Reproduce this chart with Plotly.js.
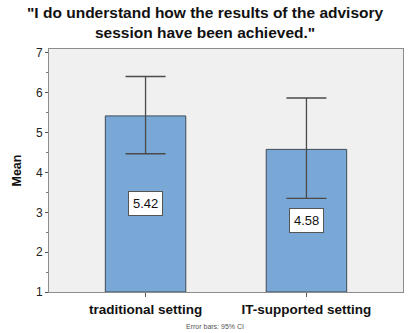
<!DOCTYPE html>
<html>
<head>
<meta charset="utf-8">
<script src="https://cdn.plot.ly/plotly-3.0.1.min.js"></script>
<style>
  html, body { margin: 0; padding: 0; background: #fff; }
  #chart { width: 408px; height: 333px; }
</style>
</head>
<body>
<div id="chart"></div>
<script>
// Mean agreement per advisory setting, with 95% confidence intervals
const categories = ["traditional setting", "IT-supported setting"];
const means = [5.42, 4.58];
const ciUpper = [6.41, 5.87];
const ciLower = [4.47, 3.35];
const yTickValues = [1, 2, 3, 4, 5, 6, 7];
const yTickLabels = ["1", "2", "3", "4", "5", "6", "7"];
const chartTitle = "\"I do understand how the results of the advisory<br>session have been achieved.\"";
const footnoteText = "Error bars: 95% CI";

const axisFloor = 1;
const errPlus = means.map((m, i) => ciUpper[i] - m);
const errMinus = means.map((m, i) => m - ciLower[i]);
const FONT = "Liberation Sans, Arial, sans-serif";

const barTrace = {
  type: "bar",
  x: categories,
  y: means.map(m => m - axisFloor),
  base: axisFloor,
  width: 0.5,
  marker: { color: "#79a7d6", line: { color: "#3f4a55", width: 1 } },
  error_y: {
    type: "data",
    symmetric: false,
    array: errPlus,
    arrayminus: errMinus,
    color: "#4a4a4a",
    thickness: 1.3,
    width: 20
  },
  hoverinfo: "skip"
};

// Value boxes placed at the vertical middle of each bar
const valueLabels = categories.map((c, i) => ({
  x: c,
  y: (means[i] + axisFloor) / 2,
  xref: "x",
  yref: "y",
  text: means[i].toFixed(2),
  showarrow: false,
  bgcolor: "#ffffff",
  bordercolor: "#555555",
  borderwidth: 1,
  borderpad: 4,
  font: { family: FONT, size: 13, color: "#111" }
}));

const titleNote = {
  xref: "paper", yref: "paper",
  x: 0.443, y: 1.192,
  xanchor: "center", yanchor: "top",
  text: "<b>" + chartTitle + "</b>",
  showarrow: false,
  font: { family: FONT, size: 15.5, color: "#111" }
};

const footnote = {
  xref: "paper", yref: "paper",
  x: 0.47, y: -0.118,
  xanchor: "center", yanchor: "top",
  text: footnoteText,
  showarrow: false,
  font: { family: FONT, size: 7, color: "#555" }
};

const layout = {
  width: 408,
  height: 333,
  margin: { l: 49, r: 5, t: 49, b: 41 },
  paper_bgcolor: "#ffffff",
  plot_bgcolor: "#f0f0f0",
  showlegend: false,
  xaxis: {
    type: "category",
    range: [-0.6, 1.6],
    showline: true,
    linecolor: "#8c8c8c",
    linewidth: 1,
    mirror: true,
    ticks: "outside",
    ticklen: 4,
    tickcolor: "#555",
    showgrid: false,
    tickfont: { family: FONT, size: 13.5, color: "#111", weight: "bold" },
    ticklabelstandoff: 1
  },
  yaxis: {
    range: [1, 7.1],
    tickvals: yTickValues,
    ticktext: yTickLabels,
    showline: true,
    linecolor: "#8c8c8c",
    linewidth: 1,
    mirror: true,
    ticks: "outside",
    ticklen: 3,
    tickcolor: "#555",
    showgrid: false,
    zeroline: false,
    minor: { dtick: 0.5, ticks: "outside", ticklen: 2, tickcolor: "#777", showgrid: false },
    tickfont: { family: FONT, size: 12, color: "#222" },
    title: {
      text: "<b>Mean</b>",
      font: { family: FONT, size: 12.5, color: "#111" },
      standoff: 11
    }
  },
  annotations: [titleNote].concat(valueLabels, [footnote])
};

Plotly.newPlot("chart", [barTrace], layout, { staticPlot: true, displayModeBar: false });
</script>
</body>
</html>
